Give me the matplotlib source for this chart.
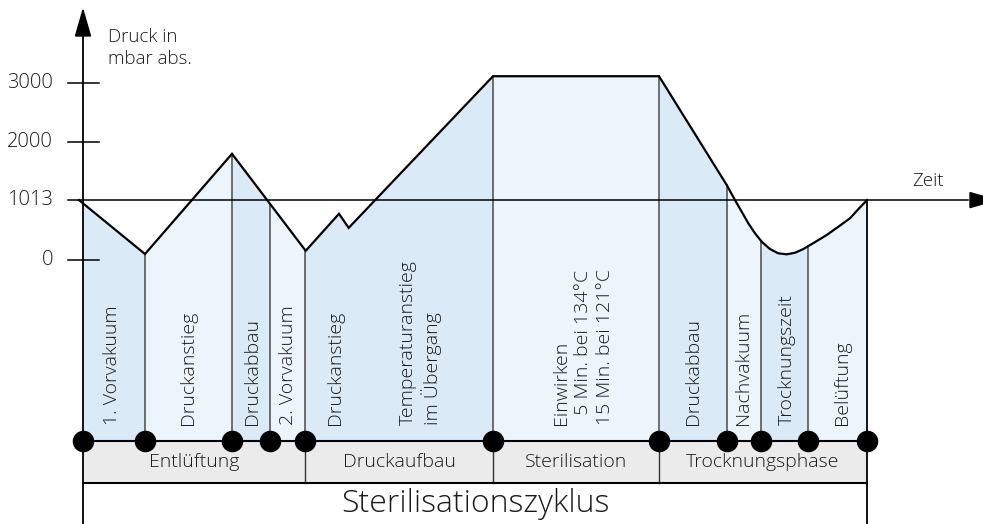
import numpy as np
import matplotlib.pyplot as plt

# Pressure curve of the sterilisation cycle (time in arbitrary units, pressure in mbar abs.)
t_curve = [-4, 62, 149, 222.7, 256, 265.7, 410, 576, 643.7, 652, 658.7, 665.3, 672, 678.7,
           687, 695.3, 703.7, 712, 720.3, 733, 743.7, 755, 767, 775, 784]
p_curve = [1013, 95, 1800, 150, 780, 540, 3120, 3120, 1270, 1013, 815, 618, 448, 305,
           180, 107, 90, 117, 180, 308, 419, 555, 703, 852, 1013]

# step boundaries (dots) and step labels
step_bounds = [0, 62, 149, 187, 222, 410, 576, 643.7, 678, 724.7, 784]
step_labels = ['1. Vorvakuum', 'Druckanstieg', 'Druckabbau', '2. Vorvakuum', 'Druckanstieg',
               'Temperaturanstieg\nim Übergang',
               'Einwirken\n  5 Min. bei 134°C\n15 Min. bei 121°C',
               'Druckabbau', 'Nachvakuum', 'Trocknungszeit', 'Belüftung']
step_label_t = [29, 105, 169, 205, 252, 337, 500, 610, 660, 704, 759]

# phases
phase_bounds = [0, 222, 410, 576, 784]
phase_labels = ['Entlüftung', 'Druckaufbau', 'Sterilisation', 'Trocknungsphase']
cycle_label = 'Sterilisationszyklus'

yticks = [0, 1013, 2000, 3000]

# layout levels (same units as the pressure axis)
Y_TOP = 4417
Y_BOT = -4498
Y_DOTS = -3087
Y_PHASE = -3801
Y_STEPTXT = -2814

DARK = '#daeaf7'
LIGHT = '#edf5fc'
FONT = dict(family='Open Sans', weight='light', color='#1a1a1a')

fig = plt.figure(figsize=(9.83, 5.24), dpi=100)
ax = fig.add_axes([0, 0, 1, 1])
ax.set_xlim(-83, 900)
ax.set_ylim(Y_BOT, Y_TOP)
ax.axis('off')

# coloured step areas under the curve
for i in range(len(step_bounds) - 1):
    a, b = step_bounds[i], step_bounds[i + 1]
    xs = np.linspace(a, b, 200)
    ys = np.interp(xs, t_curve, p_curve)
    ax.fill_between(xs, ys, Y_DOTS, color=DARK if i % 2 == 0 else LIGHT, lw=0, zorder=1)

# step separator lines
for b in step_bounds[1:-1]:
    ax.plot([b, b], [np.interp(b, t_curve, p_curve), Y_DOTS], color='#4a4a4a', lw=1.1, zorder=2)
ax.plot([784, 784], [1013, Y_BOT], color='black', lw=1.3, zorder=3)

# phase band
ax.fill_between([0, 784], Y_PHASE, Y_DOTS, color='#ebebeb', lw=0, zorder=1)
ax.plot([0, 784], [Y_DOTS, Y_DOTS], color='black', lw=1.5, zorder=3)
ax.plot([0, 784], [Y_PHASE, Y_PHASE], color='black', lw=1.5, zorder=3)
for b in phase_bounds[1:-1]:
    ax.plot([b, b], [Y_PHASE, Y_DOTS], color='#333333', lw=1, zorder=2)
for i, lab in enumerate(phase_labels):
    ax.text((phase_bounds[i] + phase_bounds[i + 1]) / 2, (Y_DOTS + Y_PHASE) / 2, lab,
            ha='center', va='center', fontsize=14, **FONT)
ax.text(392, (Y_PHASE + Y_BOT) / 2, cycle_label, ha='center', va='center', fontsize=23, **FONT)

# axes
ax.plot([0, 0], [Y_BOT, 3850], color='black', lw=1.3, zorder=4)
ax.fill([0, -7.5, 7.5], [4247, 3805, 3805], color='black', zorder=4)
ax.plot([-15, 885], [1013, 1013], color='black', lw=1.1, zorder=4)
ax.fill([913, 887, 887], [1013, 1013 + 128, 1013 - 128], color='black', zorder=4, clip_on=True)
for v in yticks:
    if v != 1013:
        ax.plot([-15, 16], [v, v], color='black', lw=1.1, zorder=4)
    ax.text(-30, v, str(v), ha='right', va='center', fontsize=14.5, **FONT)
ax.text(25, 3600, 'Druck in\nmbar abs.', ha='left', va='center', fontsize=13.5,
        linespacing=1.25, **FONT)
ax.text(845, 1330, 'Zeit', ha='center', va='center', fontsize=13.5, **FONT)

# pressure curve
ax.plot(t_curve, p_curve, color='black', lw=1.6, zorder=5, solid_joinstyle='miter')

# step labels
for t, lab in zip(step_label_t, step_labels):
    ax.text(t, Y_STEPTXT, lab, rotation=90, ha='center', va='bottom', multialignment='left',
            fontsize=14, linespacing=1.25, zorder=6, **FONT)

# dots
ax.plot(step_bounds, [Y_DOTS] * len(step_bounds), 'o', color='black', ms=14.5,
        zorder=7, clip_on=False)

fig.savefig('out.png', dpi=100)
